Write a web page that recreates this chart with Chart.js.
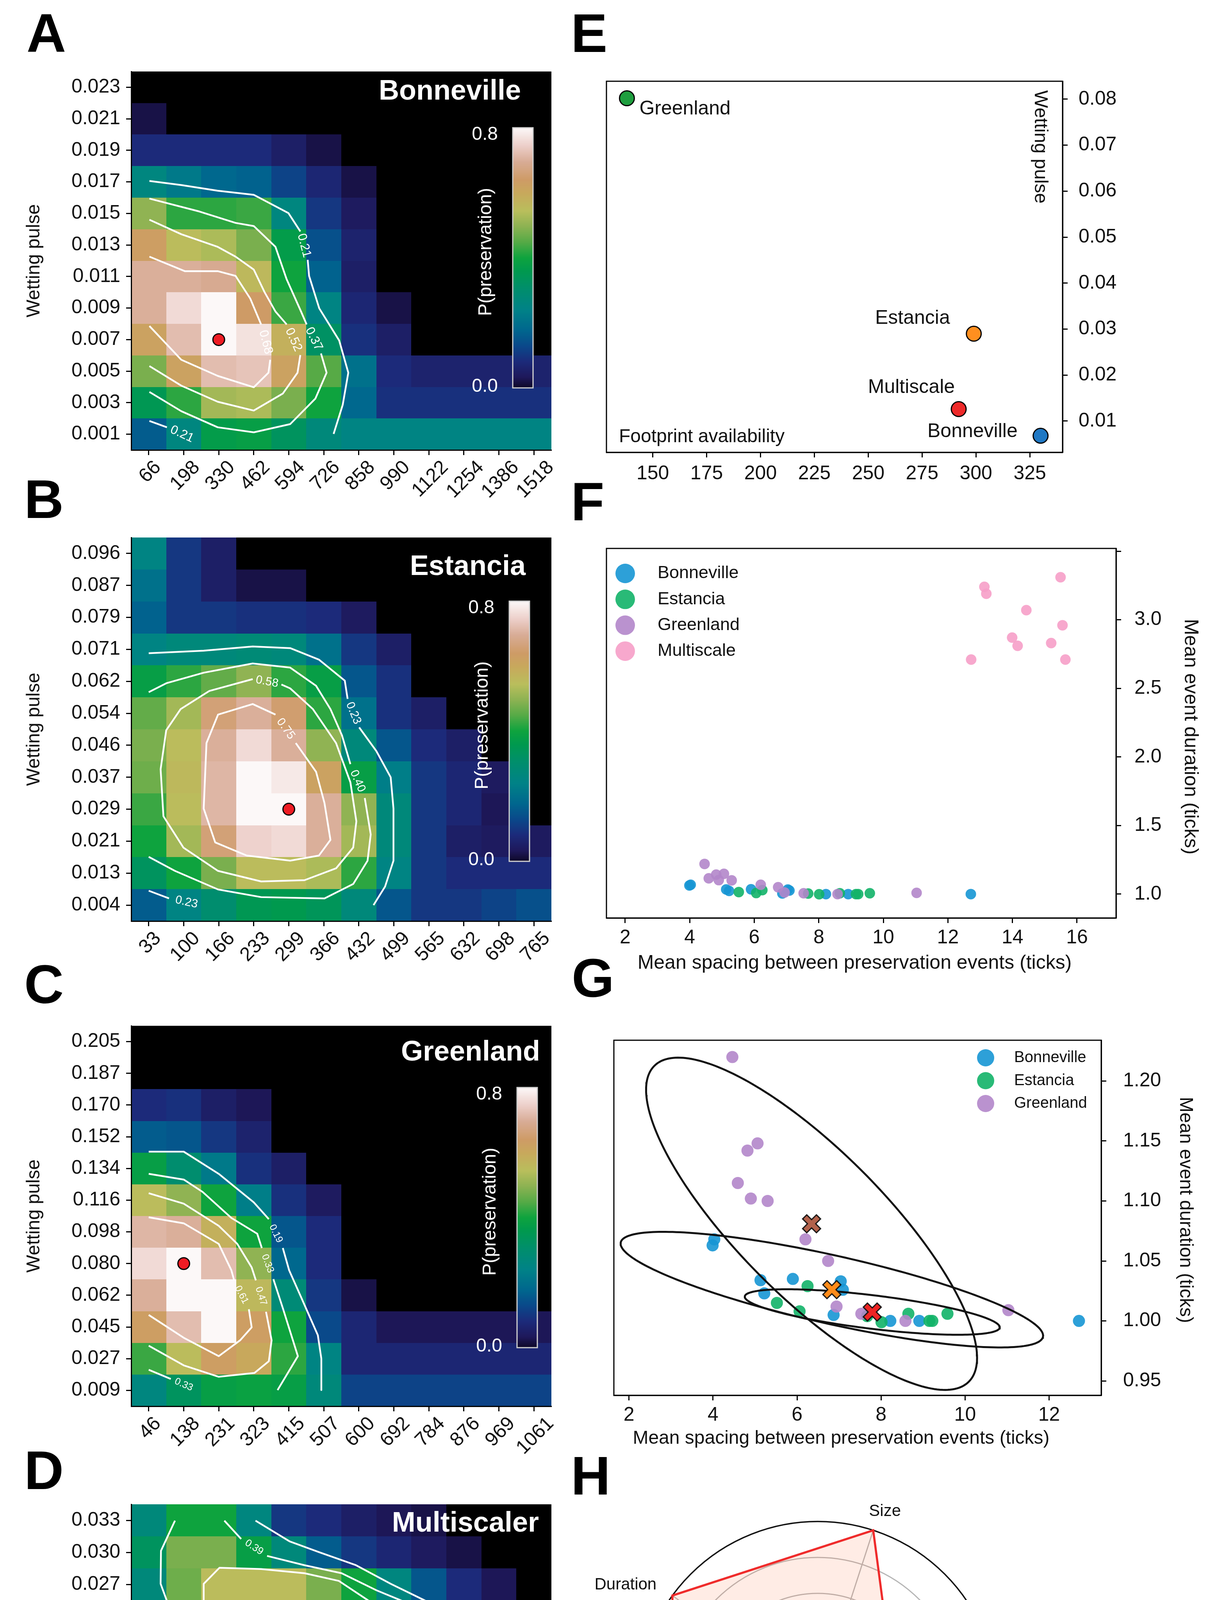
<!DOCTYPE html>
<html><head><meta charset="utf-8">
<script src="https://cdn.jsdelivr.net/npm/chart.js@4.4.0/dist/chart.umd.min.js"></script>
<style>
html,body{margin:0;padding:0;background:#fff;}
body{width:3096px;height:5047px;position:relative;overflow:hidden;font-family:'Liberation Sans',Arial,sans-serif;}
canvas{position:absolute;}
.pl{position:absolute;font-weight:bold;font-size:140px;line-height:140px;color:#000;font-family:'Liberation Sans',Arial,sans-serif;}
</style></head><body>
<div class="pl" style="left:68px;top:15px">A</div>
<div class="pl" style="left:62px;top:1208px">B</div>
<div class="pl" style="left:62px;top:2450px">C</div>
<div class="pl" style="left:62px;top:3694px">D</div>
<div class="pl" style="left:1462px;top:15px">E</div>
<div class="pl" style="left:1462px;top:1214px">F</div>
<div class="pl" style="left:1464px;top:2434px">G</div>
<div class="pl" style="left:1462px;top:3708px">H</div>
<script>
// ---------------- DATA ----------------
// Heatmaps: P(preservation); rows listed top -> bottom (as displayed), null = no data (black)
const footprintA = ['66','198','330','462','594','726','858','990','1122','1254','1386','1518'];
const wettingA = ['0.023','0.021','0.019','0.017','0.015','0.013','0.011','0.009','0.007','0.005','0.003','0.001'];
const probA = [
 [null,null,null,null,null,null,null,null,null,null,null,null],
 [0.02,null,null,null,null,null,null,null,null,null,null,null],
 [0.08,0.08,0.08,0.08,0.05,0.02,null,null,null,null,null,null],
 [0.26,0.22,0.18,0.17,0.12,0.07,0.02,null,null,null,null,null],
 [0.50,0.42,0.42,0.43,0.26,0.10,0.04,null,null,null,null,null],
 [0.63,0.55,0.53,0.48,0.37,0.14,0.06,null,null,null,null,null],
 [0.70,0.70,0.69,0.56,0.40,0.17,0.05,null,null,null,null,null],
 [0.70,0.76,0.82,0.64,0.43,0.25,0.07,0.02,null,null,null,null],
 [0.62,0.72,0.82,0.77,0.58,0.32,0.09,0.05,null,null,null,null],
 [0.48,0.62,0.72,0.73,0.62,0.45,0.20,0.08,0.06,0.06,0.06,0.06],
 [0.35,0.42,0.52,0.53,0.48,0.40,0.18,0.09,0.09,0.09,0.09,0.09],
 [0.16,0.26,0.37,0.38,0.33,0.27,0.25,0.25,0.25,0.25,0.25,0.25]];
const bestA = ['330','0.007'];
const levelsA = ['0.21','0.37','0.52','0.68'];
// contour polylines in grid-index units [column, row-from-bottom]; 'L' = inline label gap, null = break
const contoursA = [
 [[0.02,8.03],[0.93,7.90],[1.97,7.72],[3.00,7.59],[3.99,7.01],[4.33,6.43],'L',[4.54,5.53],[4.58,5.02],[4.87,3.99],[5.44,2.97],[5.70,1.95],[5.54,0.93],[5.28,0.01],null,[0.02,0.42],[0.52,0.22],'L',[1.38,-0.22]],
 [[0.02,7.47],[1.45,7.06],[2.48,6.70],[3.00,6.60],[3.62,5.94],[3.94,4.91],[4.35,3.89],[4.51,3.48],'L',[4.92,2.56],[5.08,1.95],[4.76,1.13],[4.04,0.32],[3.00,0.06],[1.97,0.22],[0.93,0.73],[0.02,1.34]],
 [[0.02,6.80],[0.93,6.34],[1.97,5.94],[2.48,5.63],[3.00,5.22],[3.31,4.50],[3.62,3.89],[3.94,3.48],'L',[4.33,2.51],[4.25,1.95],[3.83,1.29],[3.00,0.75],[1.97,1.03],[0.93,1.54],[0.02,2.16]],
 [[0.02,5.63],[1.03,5.17],[1.97,5.17],[2.48,5.02],[2.90,4.30],[3.21,3.48],'L',[3.47,2.36],[3.42,1.95],[3.00,1.49],[1.97,1.85],[0.93,2.36],[0.02,3.43]]];

const footprintB = ['33','100','166','233','299','366','432','499','565','632','698','765'];
const wettingB = ['0.096','0.087','0.079','0.071','0.062','0.054','0.046','0.037','0.029','0.021','0.013','0.004'];
const probB = [
 [0.25,0.10,0.05,null,null,null,null,null,null,null,null,null],
 [0.20,0.10,0.05,0.02,0.02,null,null,null,null,null,null,null],
 [0.17,0.10,0.10,0.09,0.09,0.08,0.04,null,null,null,null,null],
 [0.25,0.27,0.27,0.28,0.27,0.20,0.10,0.05,null,null,null,null],
 [0.38,0.42,0.46,0.50,0.42,0.38,0.15,0.09,null,null,null,null],
 [0.46,0.52,0.66,0.70,0.65,0.42,0.20,0.09,0.05,null,null,null],
 [0.48,0.55,0.70,0.76,0.70,0.50,0.27,0.15,0.08,0.05,null,null],
 [0.47,0.56,0.71,0.80,0.78,0.62,0.38,0.23,0.10,0.07,0.04,null],
 [0.43,0.55,0.71,0.81,0.82,0.70,0.50,0.27,0.10,0.07,0.03,null],
 [0.40,0.52,0.66,0.75,0.76,0.70,0.52,0.27,0.10,0.05,0.04,0.04],
 [0.33,0.40,0.48,0.55,0.55,0.53,0.42,0.25,0.10,0.08,0.08,0.08],
 [0.16,0.25,0.30,0.35,0.36,0.34,0.27,0.15,0.10,0.10,0.12,0.14]];
const bestB = ['299','0.029'];
const levelsB = ['0.23','0.40','0.58','0.75'];
const contoursB = [
 [[0,7.88],[1.57,7.96],[2.97,8.09],[4.04,8.04],[4.86,7.68],[5.60,7.02],[5.68,6.45],'L',[6.01,5.56],[6.50,4.82],[6.91,4.00],[6.99,3.02],[6.99,1.39],[6.75,0.58],[6.42,0.00],null,[0,0.45],[0.58,0.21],'L',[1.58,-0.03]],
 [[0,6.66],[0.50,6.94],[1.57,7.27],[2.97,7.56],[4.04,7.43],[4.78,6.86],[5.19,6.13],[5.52,5.31],[5.76,4.41],'L',[6.17,3.35],[6.34,2.21],[6.25,1.39],[5.84,0.66],[5.02,0.21],[3.21,0.25],[1.98,0.49],[0.75,1.07],[0,1.51]],
 [[3.79,6.90],[4.04,6.78],[4.69,6.13],[5.35,5.07],[5.76,3.84],[5.93,2.62],[5.84,1.80],[5.35,1.15],[4.45,0.78],[3.21,0.74],[1.98,1.07],[0.99,1.80],[0.42,2.78],[0.34,4.25],[0.50,5.47],[0.91,6.13],[1.73,6.70],[2.97,7.07],'L',[3.79,6.90]],
 [[4.20,5.07],[4.78,4.17],[5.02,3.19],[5.19,2.04],[4.86,1.55],[4.04,1.39],[2.80,1.55],[1.90,1.96],[1.57,3.02],[1.65,5.07],[1.98,5.96],[2.97,6.29],[3.62,5.96],'L',[4.20,5.07]]];

const footprintC = ['46','138','231','323','415','507','600','692','784','876','969','1061'];
const wettingC = ['0.205','0.187','0.170','0.152','0.134','0.116','0.098','0.080','0.062','0.045','0.027','0.009'];
const probC = [
 [null,null,null,null,null,null,null,null,null,null,null,null],
 [null,null,null,null,null,null,null,null,null,null,null,null],
 [0.08,0.09,0.05,0.03,null,null,null,null,null,null,null,null],
 [0.16,0.15,0.10,0.06,null,null,null,null,null,null,null,null],
 [0.38,0.30,0.22,0.09,0.05,null,null,null,null,null,null,null],
 [0.55,0.50,0.40,0.23,0.09,0.04,null,null,null,null,null,null],
 [0.71,0.70,0.58,0.40,0.15,0.08,null,null,null,null,null,null],
 [0.76,0.82,0.72,0.50,0.18,0.08,null,null,null,null,null,null],
 [0.70,0.82,0.81,0.56,0.28,0.10,0.02,null,null,null,null,null],
 [0.63,0.72,0.81,0.63,0.40,0.13,0.07,0.03,0.03,0.03,0.03,0.03],
 [0.43,0.55,0.63,0.60,0.42,0.25,0.07,0.07,0.07,0.07,0.07,0.07],
 [0.26,0.33,0.38,0.39,0.38,0.27,0.12,0.12,0.12,0.12,0.12,0.12]];
const bestC = ['138','0.080'];
const levelsC = ['0.19','0.33','0.47','0.61'];
const contoursC = [
 [[0,7.53],[1.0,7.53],[2.0,6.83],[3.0,5.93],[3.43,5.40],'L',[3.83,4.49],[4.01,3.79],[4.34,2.97],[4.83,1.74],[4.93,1.0],[4.93,0.01]],
 [[0,6.83],[1.0,6.65],[1.54,6.26],[2.36,5.44],[3.10,4.94],[3.23,4.49],'L',[3.56,3.51],[3.84,2.56],[4.26,1.08],[3.68,0.01],null,[0,0.65],[0.63,0.36],'L',[1.37,0.0]],
 [[0,6.22],[1.0,5.89],[2.0,5.19],[2.53,4.62],[2.94,3.88],[3.06,3.47],'L',[3.35,2.48],[3.51,1.58],[3.43,0.92],[3.02,0.55],[2.0,0.43],[1.0,0.79],[0,1.41]],
 [[0,5.46],[1.0,5.27],[2.0,4.62],[2.36,3.79],[2.44,3.47],'L',[2.86,2.56],[2.94,1.99],[2.61,1.58],[2.0,1.08],[1.0,1.66],[0,2.38]]];

const footprintD = ['20','58','98','136','176','214','254','292','332','370','410','448'];
const wettingD = ['0.033','0.030','0.027','0.024','0.021','0.018','0.016','0.013','0.010','0.007','0.004','0.001'];
const probD = [
 [0.27,0.40,0.40,0.26,0.10,0.08,0.05,0.03,0.02,null,null,null],
 [0.33,0.48,0.48,0.38,0.27,0.16,0.10,0.07,0.04,0.02,null,null],
 [0.27,0.47,0.55,0.55,0.55,0.48,0.40,0.26,0.15,0.08,0.03,null],
 [0.28,0.40,0.55,0.65,0.70,0.66,0.64,0.50,0.33,0.12,0.05,null],
 [0.28,0.40,0.55,0.70,0.76,0.79,0.77,0.64,0.40,0.18,0.08,0.03],
 [0.28,0.42,0.56,0.70,0.77,0.81,0.80,0.69,0.50,0.25,0.10,0.07],
 [0.27,0.34,0.55,0.67,0.76,0.79,0.79,0.76,0.65,0.33,0.14,0.08],
 [0.25,0.30,0.52,0.70,0.76,0.77,0.79,0.82,0.77,0.55,0.24,0.09],
 [0.20,0.27,0.48,0.62,0.70,0.72,0.75,0.79,0.79,0.56,0.25,0.09],
 [0.14,0.22,0.35,0.50,0.63,0.64,0.64,0.65,0.64,0.54,0.26,0.09],
 [0.09,0.14,0.25,0.38,0.40,0.48,0.48,0.50,0.47,0.38,0.22,0.10],
 [0.08,0.10,0.13,0.20,0.26,0.27,0.27,0.27,0.24,0.19,0.10,0.07]];
const bestD = ['292','0.013'];
const levelsD = ['0.23','0.39','0.56','0.73'];
const contoursD = [
 [[3.05,10.99],[4.03,10.34],[4.86,10.01],[5.92,9.60],[6.91,9.02],[7.98,8.45],[8.64,7.51],'L',[9.05,6.57],[9.70,5.66],[10.03,4.84],[10.24,3.86],[10.12,2.39],[9.79,1.40],[9.05,0.01],null,[0.03,3.53],[0.75,2.55],[1.49,1.40],'L',[2.10,0.75],[2.97,0.25],[3.75,0.01]],
 [[0.75,10.99],[0.35,10.05],[0.34,9.02],[0.67,8.04],[0.81,7.06],[0.67,5.99],[0.58,5.01],[1.04,4.02],[1.49,3.04],[1.98,2.22],[2.97,1.24],[4.03,0.83],[5.68,0.50],[7.98,0.34],[9.13,1.07],[9.54,1.89],[9.62,3.04],[9.62,3.86],[9.54,4.84],[9.21,5.66],[8.68,6.40],[8.39,7.14],[7.98,7.80],[7.32,8.45],[6.50,8.82],[5.51,9.35],[4.45,9.60],[3.38,9.89],'L',[2.64,10.42],[2.16,10.99]],
 [[7.20,7.63],[7.65,6.98],[7.98,6.32],[8.47,5.66],[8.96,4.84],[9.21,3.86],[9.21,2.63],[8.88,1.48],[7.98,0.99],[6.50,1.16],[4.86,1.48],[3.46,1.81],[2.56,2.55],[1.90,3.86],[1.57,5.50],[1.57,7.14],[1.57,9.02],[2.02,9.52],[3.21,9.48],[4.45,9.35],[5.43,9.11],[6.34,8.45],'L',[7.20,7.63]],
 [[7.12,6.57],[7.32,5.91],[7.98,4.93],[8.55,4.19],[8.64,3.04],[8.47,2.39],[8.06,1.81],[7.32,1.89],[5.68,2.30],[4.20,2.80],[3.54,3.61],[2.97,4.68],[2.60,5.91],[2.64,7.14],[2.72,8.04],[2.97,8.33],[3.46,8.39],[4.45,8.33],[5.51,8.12],[6.17,7.80],[6.58,7.39],'L',[7.12,6.57]]];
const colorbarTicks = ['0.0','0.8'];

// Panel E: best-fit parameters per site
const siteNames = ['Greenland','Estancia','Multiscale','Bonneville'];
const siteFootprint = [138, 299, 292, 330];
const siteWetting = [0.0802, 0.0290, 0.0126, 0.0068];
const footprintTicksE = [150,175,200,225,250,275,300,325];
const wettingTicksE = [0.01,0.02,0.03,0.04,0.05,0.06,0.07,0.08];

// Panels F/G: mean spacing (x) vs mean event duration (y)
const spacingBonneville = [4.03,3.99,5.13,5.90,5.22,7.04,7.09,6.87,8.22,8.91,12.71];
const durationBonneville = [1.068,1.063,1.034,1.035,1.023,1.033,1.026,1.005,1.000,1.000,1.000];
const spacingEstancia = [6.25,5.52,6.06,7.67,8.01,8.65,9.15,9.22,9.58];
const durationEstancia = [1.029,1.015,1.008,1.004,0.999,1.006,1.000,1.000,1.006];
const spacingGreenland = [4.46,5.06,4.82,4.59,4.90,5.30,6.20,6.74,6.94,7.53,8.58,11.03];
const durationGreenland = [1.220,1.148,1.142,1.115,1.102,1.100,1.068,1.050,1.012,1.006,1.000,1.009];
const spacingMultiscale = [15.49,13.13,13.19,14.43,15.55,13.99,14.16,15.20,12.72,15.64];
const durationMultiscale = [3.31,3.24,3.19,3.07,2.96,2.87,2.81,2.83,2.71,2.71];
const spacingTicksF = [2,4,6,8,10,12,14,16];
const durationTicksF = [1.0,1.5,2.0,2.5,3.0,3.5];
const spacingTicksG = [2,4,6,8,10,12];
const durationTicksG = [0.95,1.00,1.05,1.10,1.15,1.20];

// Panel H: radar (axes in counter-clockwise order starting at the right)
const radarAxes = ['Frequency','Size','Duration','Spacing','Concentration'];
const radarBonneville = [1.00,0.52,0.36,0.47,0.57];
const radarEstancia = [0.81,0.50,0.35,0.55,0.51];
const radarGreenland = [1.00,0.46,0.375,0.44,0.56];
const radarMultiscale = [0.435,1.00,1.00,1.00,1.00];
const radarTickLabel = '1.0';

// ---------------- STYLE / HELPERS ----------------
const FONT = "'Liberation Sans', Arial, Helvetica, sans-serif";
Chart.defaults.font.family = FONT;
Chart.defaults.color = '#111';
const CMAX = 0.8;
const CMAP = [[0,14,8,40],[0.04,30,24,90],[0.1,28,42,122],[0.16,10,72,138],[0.22,0,102,142],[0.3,0,130,135],[0.38,0,142,108],[0.45,0,153,78],[0.5,14,163,62],[0.56,85,170,70],[0.62,140,178,82],[0.68,185,190,92],[0.75,200,168,92],[0.8,206,155,102],[0.87,216,172,150],[0.93,236,206,200],[1,252,248,248]];
function cmap(t){
  t = Math.max(0, Math.min(1, t));
  for (let i = 1; i < CMAP.length; i++) {
    if (t <= CMAP[i][0]) {
      const a = CMAP[i-1], b = CMAP[i], f = (t - a[0]) / (b[0] - a[0]);
      return 'rgb(' + [1,2,3].map(k => Math.round(a[k] + f*(b[k]-a[k]))).join(',') + ')';
    }
  }
  return 'rgb(252,248,248)';
}
function makeCanvas(left, top, w, h){
  const c = document.createElement('canvas');
  c.width = w; c.height = h;
  c.style.left = left + 'px'; c.style.top = top + 'px';
  c.style.width = w + 'px'; c.style.height = h + 'px';
  document.body.appendChild(c);
  return c;
}
const baseOpts = () => ({responsive:false, animation:false, devicePixelRatio:1, events:[],
  plugins:{legend:{display:false}, tooltip:{enabled:false}}});
const gridOpts = () => ({drawOnChartArea:false, drawTicks:true, tickLength:13, tickWidth:3, tickColor:'#000'});
const borderOpts = () => ({display:true, color:'#000', width:3, z:1});
const idxTicks = n => Array.from({length:n}, (_, i) => ({value:i}));

// ---------------- HEATMAP PANELS ----------------
function heatPanel(p){
  const top = p.plotTop - 40;
  const H = 40 + (p.plotBottom - p.plotTop) + p.bottomSpace;
  const W = 1450;
  const cv = makeCanvas(0, top, W, H);
  const nR = p.values.length, nC = p.xLabels.length;
  const yUp = p.yLabels.slice().reverse();
  const toPts = arr => arr.map(q => (q === null || q === 'L') ? {x:null, y:null} : {x:q[0], y:q[1]});
  const datasets = [{
    data:[{x:p.xLabels.indexOf(p.best[0]), y:nR - 1 - p.yLabels.indexOf(p.best[1])}],
    pointRadius:15, backgroundColor:'#ee1c24', borderColor:'#000', borderWidth:3
  }];
  p.contours.forEach(c => datasets.push({data:toPts(c), showLine:true, borderColor:'#fff', borderWidth:4.5,
    pointRadius:0, spanGaps:false, fill:false, borderJoinStyle:'round'}));
  const o = baseOpts();
  o.layout = {padding:{top:40, left:0, right:W - p.plotRight, bottom:0}};
  o.scales = {
    x:{type:'linear', bounds:'data', min:-0.5, max:nC - 0.5, afterBuildTicks:s => { s.ticks = idxTicks(nC); },
       ticks:{display:false}, grid:gridOpts(), border:borderOpts(), afterFit:s => { s.height = p.bottomSpace; }},
    y:{type:'linear', bounds:'data', min:-0.5, max:nR - 0.5, afterBuildTicks:s => { s.ticks = idxTicks(nR); },
       ticks:{autoSkip:false, font:{size:50}, padding:15, color:'#111', callback:v => yUp[Math.round(v)]},
       grid:gridOpts(), border:borderOpts(), afterFit:s => { s.width = p.plotLeft; }}
  };
  new Chart(cv, {type:'scatter', data:{datasets}, options:o, plugins:[{
    id:'heat',
    beforeDatasetsDraw(chart){
      const {ctx, chartArea:a, scales:{x:xs, y:ys}} = chart;
      ctx.save();
      ctx.fillStyle = '#000';
      ctx.fillRect(a.left, a.top, a.right - a.left, a.bottom - a.top);
      p.values.forEach((row, ri) => {
        const rb = nR - 1 - ri;
        row.forEach((v, c) => {
          if (v === null) return;
          const x0 = Math.round(xs.getPixelForValue(c - 0.5)), x1 = Math.round(xs.getPixelForValue(c + 0.5));
          const y0 = Math.round(ys.getPixelForValue(rb + 0.5)), y1 = Math.round(ys.getPixelForValue(rb - 0.5));
          ctx.fillStyle = cmap(v / CMAX);
          ctx.fillRect(x0, y0, x1 - x0, y1 - y0);
        });
      });
      ctx.restore();
    },
    afterDatasetsDraw(chart){
      const {ctx, scales:{x:xs, y:ys}} = chart;
      ctx.save();
      ctx.fillStyle = '#fff'; ctx.font = p.labelSize + 'px ' + FONT;
      ctx.textAlign = 'center'; ctx.textBaseline = 'middle';
      p.contours.forEach((c, k) => {
        c.forEach((q, i) => {
          if (q !== 'L') return;
          const A = c[i-1], B = c[i+1];
          const ax = xs.getPixelForValue(A[0]), ay = ys.getPixelForValue(A[1]);
          const bx = xs.getPixelForValue(B[0]), by = ys.getPixelForValue(B[1]);
          let ang = Math.atan2(by - ay, bx - ax);
          if (ang > Math.PI/2) ang -= Math.PI;
          if (ang < -Math.PI/2) ang += Math.PI;
          ctx.save(); ctx.translate((ax + bx)/2, (ay + by)/2); ctx.rotate(ang);
          ctx.fillText(p.levels[k], 0, 0); ctx.restore();
        });
      });
      ctx.restore();
    },
    afterDraw(chart){
      const {ctx, chartArea:a, scales:{x:xs}} = chart;
      ctx.save();
      ctx.fillStyle = '#111'; ctx.font = '50px ' + FONT; ctx.textAlign = 'center'; ctx.textBaseline = 'middle';
      p.xLabels.forEach((t, i) => {
        const px = xs.getPixelForValue(i);
        const w = ctx.measureText(t).width;
        const bh = (w + 36) * Math.SQRT1_2;
        ctx.save(); ctx.translate(px + 4, a.bottom + 24 + bh/2); ctx.rotate(-Math.PI/4);
        ctx.fillText(t, 0, 0); ctx.restore();
      });
      ctx.font = '48px ' + FONT;
      ctx.save(); ctx.translate(88, (a.top + a.bottom)/2); ctx.rotate(-Math.PI/2);
      ctx.fillText('Wetting pulse', 0, 0); ctx.restore();
      if (p.xTitle) { ctx.font = '46px ' + FONT; ctx.fillText(p.xTitle, (a.left + a.right)/2 - 13, p.xTitleY - top); }
      ctx.fillStyle = '#fff'; ctx.font = 'bold 72px ' + FONT; ctx.textAlign = 'right';
      ctx.fillText(p.title, p.titleRight, a.top + p.titleDy);
      if (p.cb) {
        const cx = p.cb.left, cy = a.top + p.cb.dy, cw = 52, ch = 666;
        for (let k = 0; k < ch; k++) { ctx.fillStyle = cmap(1 - k/(ch - 1)); ctx.fillRect(cx, cy + k, cw, 1); }
        ctx.strokeStyle = '#d0d0d0'; ctx.lineWidth = 3; ctx.strokeRect(cx, cy, cw, ch);
        ctx.fillStyle = '#fff'; ctx.font = '48px ' + FONT; ctx.textAlign = 'right'; ctx.textBaseline = 'middle';
        ctx.fillText(colorbarTicks[1], cx - 38, cy + 18);
        ctx.fillText(colorbarTicks[0], cx - 38, cy + ch - 3);
        ctx.save(); ctx.translate(cx - 68, cy + ch/2 - 15); ctx.rotate(-Math.PI/2); ctx.textAlign = 'center';
        ctx.fillText('P(preservation)', 0, 0); ctx.restore();
      }
      ctx.restore();
    }
  }]});
}

heatPanel({plotTop:178, plotBottom:1152, plotLeft:336, plotRight:1412, bottomSpace:170,
  xLabels:footprintA, yLabels:wettingA, values:probA, best:bestA, levels:levelsA, contours:contoursA,
  title:'Bonneville', titleRight:1334, titleDy:52, cb:{left:1313, dy:144}, labelSize:32});
heatPanel({plotTop:1371, plotBottom:2358, plotLeft:336, plotRight:1412, bottomSpace:170,
  xLabels:footprintB, yLabels:wettingB, values:probB, best:bestB, levels:levelsB, contours:contoursB,
  title:'Estancia', titleRight:1346, titleDy:76, cb:{left:1304, dy:163}, labelSize:30});
heatPanel({plotTop:2621, plotBottom:3600, plotLeft:336, plotRight:1412, bottomSpace:170,
  xLabels:footprintC, yLabels:wettingC, values:probC, best:bestC, levels:levelsC, contours:contoursC,
  title:'Greenland', titleRight:1383, titleDy:69, cb:{left:1324, dy:158}, labelSize:25});
heatPanel({plotTop:3846, plotBottom:4836, plotLeft:336, plotRight:1412, bottomSpace:200,
  xLabels:footprintD, yLabels:wettingD, values:probD, best:bestD, levels:levelsD, contours:contoursD,
  title:'Multiscaler', titleRight:1380, titleDy:50, cb:null, labelSize:26,
  xTitle:'Footprint availability', xTitleY:4988});

// ---------------- SCATTER PANELS (E, F, G) ----------------
function scatterPanel(s){
  const cv = makeCanvas(1460, s.canvasTop, 1636, s.canvasH);
  const o = baseOpts();
  o.layout = {padding:{left:s.plotLeft - 1460, top:s.plotTop - s.canvasTop, right:0, bottom:0}};
  o.scales = {
    x:{type:'linear', bounds:'data', min:s.xMin, max:s.xMax, afterBuildTicks:sc => { sc.ticks = s.xTicks.map(v => ({value:v})); },
       ticks:{font:{size:50}, padding:s.xPad, color:'#111', autoSkip:false, maxRotation:0, minRotation:0, callback:s.xFmt},
       grid:gridOpts(), border:borderOpts(), afterFit:sc => { sc.height = s.canvasTop + s.canvasH - s.plotBottom; }},
    y:{type:'linear', position:'right', bounds:'data', min:s.yMin, max:s.yMax, afterBuildTicks:sc => { sc.ticks = s.yTicks.map(v => ({value:v})); },
       ticks:{font:{size:50}, padding:s.yPad, color:'#111', autoSkip:false, callback:s.yFmt},
       grid:gridOpts(), border:borderOpts(), afterFit:sc => { sc.width = 3096 - s.plotRight; }}
  };
  return new Chart(cv, {type:'scatter', data:{datasets:s.datasets}, options:o, plugins:[{
    id:'deco',
    afterDraw(chart){
      const {ctx, chartArea:a} = chart;
      ctx.save();
      ctx.strokeStyle = '#000'; ctx.lineWidth = 3;
      ctx.strokeRect(a.left, a.top, a.right - a.left, a.bottom - a.top);
      ctx.restore();
      s.decorate(chart);
    }
  }]});
}
function legendBlock(ctx, items, x, y0, dy, r, textX, size){
  ctx.save();
  ctx.font = size + 'px ' + FONT; ctx.textAlign = 'left'; ctx.textBaseline = 'middle';
  items.forEach((it, i) => {
    const y = y0 + dy*i;
    ctx.fillStyle = it.color; ctx.beginPath(); ctx.arc(x, y, r, 0, Math.PI*2); ctx.fill();
    ctx.fillStyle = '#111'; ctx.fillText(it.name, textX, y);
  });
  ctx.restore();
}

// E
const siteColors = ['#1f9e3f','#ff8f1f','#ee2a2a','#1f78c4'];
const eLabelOffsets = [[32,28,'left'],[-61,-39,'right'],[-10,-55,'right'],[-59,-10,'right']];
scatterPanel({canvasTop:150, canvasH:1120, plotLeft:1553, plotRight:2721, plotTop:172, plotBottom:1158,
  xMin:128.5, xMax:340.2, yMin:0.0032, yMax:0.0839, xTicks:footprintTicksE, yTicks:wettingTicksE,
  xPad:12, yPad:28, xFmt:v => String(v), yFmt:v => v.toFixed(2),
  datasets:[{data:siteFootprint.map((x, i) => ({x, y:siteWetting[i]})), backgroundColor:siteColors,
    borderColor:'#000', borderWidth:3, pointRadius:19}],
  decorate(chart){
    const {ctx, chartArea:a} = chart; const meta = chart.getDatasetMeta(0);
    ctx.save(); ctx.fillStyle = '#111'; ctx.font = '50px ' + FONT; ctx.textBaseline = 'middle';
    siteNames.forEach((n, i) => { const pt = meta.data[i], off = eLabelOffsets[i]; ctx.textAlign = off[2]; ctx.fillText(n, pt.x + off[0], pt.y + off[1]); });
    ctx.font = '48px ' + FONT; ctx.textAlign = 'left';
    ctx.fillText('Footprint availability', a.left + 32, a.bottom - 39);
    ctx.save(); ctx.translate(a.right - 58, a.top + 23); ctx.rotate(Math.PI/2); ctx.fillText('Wetting pulse', 0, 0); ctx.restore();
    ctx.restore();
  }
});

// F
const colBonneville = 'rgba(22,150,212,0.9)', colEstancia = 'rgba(18,178,104,0.9)',
      colGreenland = 'rgba(178,134,202,0.9)', colMultiscale = 'rgba(246,158,200,0.9)';
const pts = (xs, ys) => xs.map((x, i) => ({x, y:ys[i]}));
scatterPanel({canvasTop:1340, canvasH:1200, plotLeft:1553, plotRight:2858, plotTop:1372, plotBottom:2350,
  xMin:1.42, xMax:17.21, yMin:0.826, yMax:3.52, xTicks:spacingTicksF, yTicks:durationTicksF,
  xPad:8, yPad:34, xFmt:v => String(v), yFmt:v => (Math.abs(v - 3.5) < 1e-9 ? '' : v.toFixed(1)),
  datasets:[
    {data:pts(spacingBonneville, durationBonneville), backgroundColor:colBonneville, borderWidth:0, pointRadius:13.5, order:3},
    {data:pts(spacingEstancia, durationEstancia), backgroundColor:colEstancia, borderWidth:0, pointRadius:13.5, order:2},
    {data:pts(spacingGreenland, durationGreenland), backgroundColor:colGreenland, borderWidth:0, pointRadius:13.5, order:1},
    {data:pts(spacingMultiscale, durationMultiscale), backgroundColor:colMultiscale, borderWidth:0, pointRadius:13.5, order:0}],
  decorate(chart){
    const {ctx, chartArea:a} = chart;
    legendBlock(ctx, [{name:'Bonneville', color:colBonneville},{name:'Estancia', color:colEstancia},
      {name:'Greenland', color:colGreenland},{name:'Multiscale', color:colMultiscale}],
      a.left + 48, a.top + 64, 66.3, 25, a.left + 131, 45);
    ctx.save(); ctx.fillStyle = '#111'; ctx.font = '50px ' + FONT; ctx.textAlign = 'center'; ctx.textBaseline = 'middle';
    ctx.fillText('Mean spacing between preservation events (ticks)', (a.left + a.right)/2 - 17, a.bottom + 116);
    ctx.translate(a.right + 190, (a.top + a.bottom)/2 + 9); ctx.rotate(Math.PI/2);
    ctx.fillText('Mean event duration (ticks)', 0, 0);
    ctx.restore();
  }
});

// G
function stats(xs, ys){
  const n = xs.length;
  const mx = xs.reduce((s, v) => s + v, 0)/n, my = ys.reduce((s, v) => s + v, 0)/n;
  let sxx = 0, syy = 0, sxy = 0;
  xs.forEach((x, i) => { sxx += (x - mx)**2; syy += (ys[i] - my)**2; sxy += (x - mx)*(ys[i] - my); });
  return {mx, my, sxx:sxx/(n - 1), syy:syy/(n - 1), sxy:sxy/(n - 1)};
}
function confidenceEllipse(xs, ys, nstd){
  const s = stats(xs, ys);
  const p = s.sxy/Math.sqrt(s.sxx*s.syy);
  const rx = Math.sqrt(1 + p), ry = Math.sqrt(1 - p);
  const sx = Math.sqrt(s.sxx)*nstd, sy = Math.sqrt(s.syy)*nstd;
  const out = [];
  for (let k = 0; k <= 240; k++) {
    const t = 2*Math.PI*k/240, u = rx*Math.cos(t), v = ry*Math.sin(t);
    out.push({x:s.mx + (u - v)*Math.SQRT1_2*sx, y:s.my + (u + v)*Math.SQRT1_2*sy});
  }
  return out;
}
function xMarker(color, size){
  const c = document.createElement('canvas'); c.width = c.height = size + 10;
  const g = c.getContext('2d'); g.translate(c.width/2, c.height/2); g.rotate(Math.PI/4);
  const tot = size/2*Math.SQRT2, a = tot*0.23, L = tot - a;
  const P = [[a,L],[a,a],[L,a],[L,-a],[a,-a],[a,-L],[-a,-L],[-a,-a],[-L,-a],[-L,a],[-a,a],[-a,L]];
  g.beginPath(); P.forEach((q, i) => i ? g.lineTo(q[0], q[1]) : g.moveTo(q[0], q[1])); g.closePath();
  g.fillStyle = color; g.fill(); g.lineWidth = 3; g.strokeStyle = '#111'; g.lineJoin = 'miter'; g.stroke();
  return c;
}
const meanOf = (xs, ys) => { const s = stats(xs, ys); return [{x:s.mx, y:s.my}]; };
const ellipseStyle = {showLine:true, borderColor:'#111', borderWidth:5, pointRadius:0, fill:false};
scatterPanel({canvasTop:2590, canvasH:1150, plotLeft:1572, plotRight:2820, plotTop:2622, plotBottom:3572,
  xMin:1.64, xMax:13.24, yMin:0.938, yMax:1.234, xTicks:spacingTicksG, yTicks:durationTicksG,
  xPad:8, yPad:43, xFmt:v => String(v), yFmt:v => v.toFixed(2),
  datasets:[
    {data:pts(spacingBonneville, durationBonneville), backgroundColor:colBonneville, borderWidth:0, pointRadius:15.5, order:6},
    {data:pts(spacingEstancia, durationEstancia), backgroundColor:colEstancia, borderWidth:0, pointRadius:15.5, order:5},
    {data:pts(spacingGreenland, durationGreenland), backgroundColor:colGreenland, borderWidth:0, pointRadius:15.5, order:4},
    Object.assign({data:confidenceEllipse(spacingBonneville, durationBonneville, 2), order:3}, ellipseStyle),
    Object.assign({data:confidenceEllipse(spacingEstancia, durationEstancia, 2), order:3}, ellipseStyle),
    Object.assign({data:confidenceEllipse(spacingGreenland, durationGreenland, 2), order:3}, ellipseStyle),
    {data:meanOf(spacingBonneville, durationBonneville), pointStyle:xMarker('#ff8c1a', 46), order:0},
    {data:meanOf(spacingEstancia, durationEstancia), pointStyle:xMarker('#ee2424', 46), order:0},
    {data:meanOf(spacingGreenland, durationGreenland), pointStyle:xMarker('#b2624c', 46), order:0}],
  decorate(chart){
    const {ctx, chartArea:a} = chart;
    legendBlock(ctx, [{name:'Bonneville', color:colBonneville},{name:'Estancia', color:colEstancia},
      {name:'Greenland', color:colGreenland}], a.right - 296, a.top + 45, 58.5, 22, a.right - 223, 40);
    ctx.save(); ctx.fillStyle = '#111'; ctx.font = '48px ' + FONT; ctx.textAlign = 'center'; ctx.textBaseline = 'middle';
    ctx.fillText('Mean spacing between preservation events (ticks)', (a.left + a.right)/2 - 42, a.bottom + 111);
    ctx.translate(a.right + 215, (a.top + a.bottom)/2 - 20); ctx.rotate(Math.PI/2);
    ctx.fillText('Mean event duration (ticks)', 0, 0);
    ctx.restore();
  }
});

// ---------------- RADAR (H) ----------------
(function(){
  const cv = makeCanvas(1460, 3700, 1636, 1347);
  const order = [0, 4, 3, 2, 1]; // clockwise from the right for Chart.js
  const labels = order.map(i => radarAxes[i]);
  const series = [
    {name:'Bonneville', vals:radarBonneville, color:'#1f77b4', fill:'rgba(31,119,180,0.10)', order:3, width:6.5},
    {name:'Estancia', vals:radarEstancia, color:'#ff7f0e', fill:'rgba(255,127,14,0.10)', order:2, width:6.5},
    {name:'Greenland', vals:radarGreenland, color:'#2ca02c', fill:'rgba(44,160,44,0.08)', order:1, width:6.5},
    {name:'Multiscale', vals:radarMultiscale, color:'#ef2b2b', fill:'rgba(255,127,80,0.15)', order:0, width:5.5}];
  const o = baseOpts();
  o.layout = {padding:{left:174, top:195, right:542, bottom:232}};
  o.plugins.filler = {drawTime:'beforeDatasetsDraw'};
  o.scales = {r:{min:0, max:1, startAngle:90,
    ticks:{display:false, stepSize:0.2}, pointLabels:{display:false},
    grid:{circular:true, color:c => (c.tick && c.tick.value > 0.999) ? '#111' : '#b5b5b5', lineWidth:c => (c.tick && c.tick.value > 0.999) ? 3.5 : 3},
    angleLines:{color:'#b5b5b5', lineWidth:3}}};
  const offs = {Frequency:[123,-2], Concentration:[204,7], Spacing:[-89,24], Duration:[-120,-27], Size:[30,-48]};
  new Chart(cv, {type:'radar', data:{labels, datasets:series.map(s => ({label:s.name, data:order.map(i => s.vals[i]),
      borderColor:s.color, backgroundColor:s.fill, borderWidth:s.width, pointRadius:0, fill:true, order:s.order, borderJoinStyle:'miter'}))},
    options:o, plugins:[{id:'rdeco', afterDraw(chart){
      const {ctx} = chart; const r = chart.scales.r;
      ctx.save(); ctx.fillStyle = '#111'; ctx.font = '42px ' + FONT; ctx.textAlign = 'center'; ctx.textBaseline = 'middle';
      labels.forEach((lab, i) => { const q = r.getPointPositionForValue(i, 1); const d = offs[lab]; ctx.fillText(lab, q.x + d[0], q.y + d[1]); });
      const R = r.drawingArea + 35, ang = 22.5*Math.PI/180;
      ctx.fillText(radarTickLabel, r.xCenter + R*Math.cos(ang), r.yCenter - R*Math.sin(ang));
      ctx.font = '38px ' + FONT; ctx.textAlign = 'left';
      series.forEach((s, i) => {
        const y = r.yCenter + 204 + 55*i;
        ctx.strokeStyle = s.color; ctx.lineWidth = 8; ctx.beginPath();
        ctx.moveTo(r.xCenter + 460, y); ctx.lineTo(r.xCenter + 540, y); ctx.stroke();
        ctx.fillText(s.name, r.xCenter + 568, y);
      });
      ctx.restore();
    }}]});
})();
</script>
</body></html>
